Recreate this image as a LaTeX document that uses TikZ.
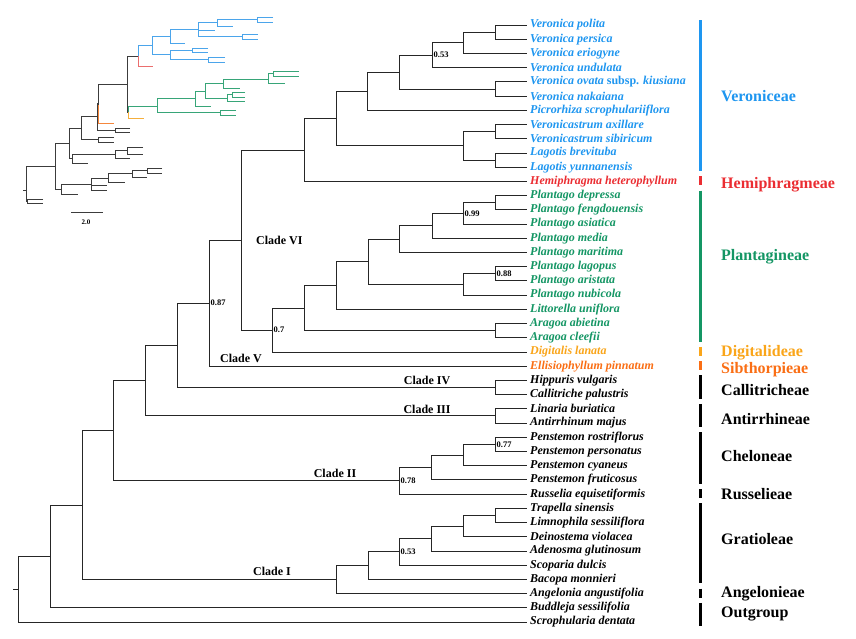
\documentclass[tikz,border=0pt]{standalone}
\usepackage{fontspec}
\setmainfont{Liberation Serif}
\usepackage{tikz}

\definecolor{vblue}{RGB}{30,150,240}
\definecolor{vred}{RGB}{235,45,50}
\definecolor{vgreen}{RGB}{20,150,100}
\definecolor{vorange}{RGB}{250,165,25}
\definecolor{vsib}{RGB}{250,110,20}
\definecolor{iblue}{RGB}{75,165,235}
\definecolor{igreen}{RGB}{55,165,120}
\definecolor{ired}{RGB}{235,110,110}
\definecolor{iorange}{RGB}{245,175,60}
\definecolor{isib}{RGB}{245,135,60}
\definecolor{igray}{RGB}{60,60,60}

% small bracket of the inset tree: [style]{x}{y top}{y bottom}{x top end}{x bottom end}
\newcommand{\ifork}[6][]{\draw[inset,#1] (#5,#3) -- (#2,#3) -- (#2,#4) -- (#6,#4);}

\begin{document}
\begin{tikzpicture}[x=1pt,y=1pt,yscale=-1,
  branch/.style={draw=black!85,line width=0.8pt},
  inset/.style={igray,line width=0.7pt},
  leaf/.style={anchor=west,inner xsep=3pt,inner ysep=0pt,font=\fontsize{12}{14}\selectfont\bfseries\itshape},
  support/.style={anchor=west,inner sep=1.5pt,font=\fontsize{8.5}{9}\selectfont\bfseries},
  clade/.style={anchor=base,inner sep=0pt,font=\fontsize{12}{14}\selectfont\bfseries},
  tribe/.style={anchor=base west,inner sep=0pt,font=\fontsize{16}{18}\selectfont\bfseries},
  tribebar/.style={line width=3pt}]
\useasboundingbox (0,0) rectangle (856,638);
\fill[white] (0,0) rectangle (856,638);

%Inset: whole tree with branch lengths
\ifork[iblue]{257}{17}{22}{273}{273}
\ifork[iblue]{217}{19.5}{26}{257}{233}
\ifork[iblue]{242}{34}{39}{258}{258}
\ifork[iblue]{198}{22.75}{36.5}{217}{242}
\draw[inset,iblue] (198,30) -- (215,30);
\ifork[iblue]{170}{29.6}{43}{198}{185}
\ifork[iblue]{192}{48}{52}{208}{208}
\ifork[iblue]{208}{57}{62}{225}{225}
\ifork[iblue]{170}{50}{59.5}{192}{208}
\ifork[iblue]{152}{36.3}{54.75}{170}{170}
\draw[inset,iblue] (152,45.5) -- (138,45.5) -- (138,56);
\draw[inset,ired] (138,56) -- (138,66) -- (153,66);
\ifork{127}{56}{112}{138}{128}
\draw[inset,igreen] (157,106) -- (128,106) -- (128,112);
\draw[inset,iorange] (128,112) -- (128,118) -- (144,118);
\ifork[igreen]{220}{110}{115}{236}{236}
\ifork[igreen]{157}{98}{112.5}{195}{220}
\ifork[igreen]{195}{91}{106}{205}{211}
\ifork[igreen]{205}{83.5}{98}{223}{227}
\ifork[igreen]{227}{94.5}{101}{232}{245}
\ifork[igreen]{232}{92}{97}{245}{245}
\ifork[igreen]{223}{79}{88}{268}{240}
\ifork[igreen]{268}{73.5}{83}{273}{285}
\ifork[igreen]{273}{71}{76}{299}{299}
\draw[inset] (127,84) -- (98,84) -- (98,105);
\draw[inset,isib] (98,105) -- (98,123) -- (114,123);
\ifork{97}{103.5}{130}{98}{115}
\ifork{115}{128}{132}{130}{130}
\ifork{98}{137}{142}{114}{114}
\ifork{81}{116.75}{139.5}{97}{98}
\ifork{127}{147}{154}{143}{143}
\ifork{115}{150.5}{158}{127}{130}
\ifork{72}{154.25}{163}{115}{88}
\ifork{69}{128}{158.6}{81}{72}
\ifork{147}{168}{173}{162}{162}
\ifork{132}{170.5}{177}{147}{147}
\ifork{108}{173.75}{182}{132}{125}
\ifork{91}{178}{190}{108}{107}
\draw[inset] (91,185) -- (107,185);
\ifork{61}{184}{194}{91}{78}
\ifork{55}{143.3}{189}{69}{61}
\ifork{27}{199}{203}{43}{43}
\ifork{26}{166}{201}{55}{27}
\draw[inset] (23,190) -- (26,190);
\draw[inset] (71,212) -- (103,212);
\node[inner sep=0pt,font=\fontsize{7}{8}\selectfont\bfseries] (scalebar) at (86,222) {2.0};

% Leaves
\foreach \txt/\col [count=\i] in {
  Veronica polita/vblue, Veronica persica/vblue, Veronica eriogyne/vblue,
  Veronica undulata/vblue, Veronica ovata {\upshape subsp.} kiusiana/vblue,
  Veronica nakaiana/vblue, Picrorhiza scrophulariiflora/vblue,
  Veronicastrum axillare/vblue, Veronicastrum sibiricum/vblue,
  Lagotis brevituba/vblue, Lagotis yunnanensis/vblue,
  Hemiphragma heterophyllum/vred,
  Plantago depressa/vgreen, Plantago fengdouensis/vgreen, Plantago asiatica/vgreen,
  Plantago media/vgreen, Plantago maritima/vgreen, Plantago lagopus/vgreen,
  Plantago aristata/vgreen, Plantago nubicola/vgreen, Littorella uniflora/vgreen,
  Aragoa abietina/vgreen, Aragoa cleefii/vgreen,
  Digitalis lanata/vorange, Ellisiophyllum pinnatum/vsib,
  Hippuris vulgaris/black, Callitriche palustris/black,
  Linaria buriatica/black, Antirrhinum majus/black,
  Penstemon rostriflorus/black, Penstemon personatus/black,
  Penstemon cyaneus/black, Penstemon fruticosus/black,
  Russelia equisetiformis/black, Trapella sinensis/black,
  Limnophila sessiliflora/black, Deinostema violacea/black,
  Adenosma glutinosum/black, Scoparia dulcis/black, Bacopa monnieri/black,
  Angelonia angustifolia/black, Buddleja sessilifolia/black,
  Scrophularia dentata/black}
  \node[leaf,text=\col] (l\i) at (527,{25+(\i-1)*14.214}) {\txt};

% Internal nodes (x, leaf index)
\foreach \n/\x/\k in {
  v1/495/1.5, v2/463/2.25, v3/432/3.125, v4/495/5.5, v5/399/4.3125,
  v6/367/5.65625, v7/495/8.5, v8/495/10.5, v9/463/9.5, v10/336/7.578,
  v11/304/9.789,
  p1/495/13.5, p2/463/14.25, p3/432/15.125, p4/399/16.0625, p5/495/18.5,
  p6/463/19.25, p7/368/17.656, p8/336/19.328, p9/495/22.5, p10/304/20.914,
  p11/272/22.457,
  c6/241/16.123, c5/209/20.56, h1/495/26.5, c4/177/23.53, a1/495/28.5,
  c3/145/26.015,
  ch1/495/30.5, ch2/463/31.25, ch3/431/32.125, ch4/399/33.0625, c2/113/29.54,
  g1/495/35.5, g2/463/36.25, g3/431/37.125, g4/399/38.0625, g5/368/39.031,
  g6/336/40.016, c1/82/34.78, o1/50/38.39, rt/18/40.695}
  \coordinate (\n) at (\x,{25+(\k-1)*14.214});
\coordinate (stub) at (13,{25+39.695*14.214});

% Branches
\foreach \p/\c in {
  v1/l1.west, v1/l2.west, v2/v1, v2/l3.west, v3/v2, v3/l4.west,
  v4/l5.west, v4/l6.west, v5/v3, v5/v4, v6/v5, v6/l7.west,
  v7/l8.west, v7/l9.west, v8/l10.west, v8/l11.west, v9/v7, v9/v8,
  v10/v6, v10/v9, v11/v10, v11/l12.west,
  p1/l13.west, p1/l14.west, p2/p1, p2/l15.west, p3/p2, p3/l16.west,
  p4/p3, p4/l17.west, p5/l18.west, p5/l19.west, p6/p5, p6/l20.west,
  p7/p4, p7/p6, p8/p7, p8/l21.west, p9/l22.west, p9/l23.west,
  p10/p8, p10/p9, p11/p10, p11/l24.west,
  c6/v11, c6/p11, c5/c6, c5/l25.west, h1/l26.west, h1/l27.west,
  c4/c5, c4/h1, a1/l28.west, a1/l29.west, c3/c4, c3/a1,
  ch1/l30.west, ch1/l31.west, ch2/ch1, ch2/l32.west, ch3/ch2, ch3/l33.west,
  ch4/ch3, ch4/l34.west, c2/c3, c2/ch4,
  g1/l35.west, g1/l36.west, g2/g1, g2/l37.west, g3/g2, g3/l38.west,
  g4/g3, g4/l39.west, g5/g4, g5/l40.west, g6/g5, g6/l41.west,
  c1/c2, c1/g6, o1/c1, o1/l42.west, rt/o1, rt/l43.west}
  \draw[branch] (\p) |- (\c);
\draw[branch] (stub) -- (rt);

% Support values
\node[support] (s1) at (v3) {0.53};
\node[support] (s2) at (p2) {0.99};
\node[support] (s3) at (p5) {0.88};
\node[support] (s4) at (c5) {0.87};
\node[support] (s5) at (p11) {0.7};
\node[support] (s6) at (ch1) {0.77};
\node[support] (s7) at (ch4) {0.78};
\node[support] (s8) at (g4) {0.53};

% Clades
\node[clade,anchor=west] (cl6) at ([xshift=15pt]c6) {Clade VI};
\node[clade] (cl5) at (241,362) {Clade V};
\node[clade] (cl4) at (427,384) {Clade IV};
\node[clade] (cl3) at (427,413) {Clade III};
\node[clade] (cl2) at (335,477) {Clade II};
\node[clade] (cl1) at (272,575) {Clade I};

% Tribes
\foreach \a/\b/\yb/\col/\tname [count=\j] in {
  1/11/101/vblue/Veroniceae, 12/12/188/vred/Hemiphragmeae,
  13/23/260/vgreen/Plantagineae, 24/24/356/vorange/Digitalideae,
  25/25/373/vsib/Sibthorpieae, 26/27/395/black/Callitricheae,
  28/29/424/black/Antirrhineae, 30/33/461/black/Cheloneae,
  34/34/499/black/Russelieae, 35/40/544/black/Gratioleae,
  41/41/597/black/Angelonieae, 42/43/617/black/Outgroup}
{
  \draw[tribebar,\col] (700,{25+(\a-1)*14.214-5}) -- (700,{25+(\b-1)*14.214+4});
  \node[tribe,text=\col] (t\j) at (721,\yb) {\tname};
}

\end{tikzpicture}
\end{document}
